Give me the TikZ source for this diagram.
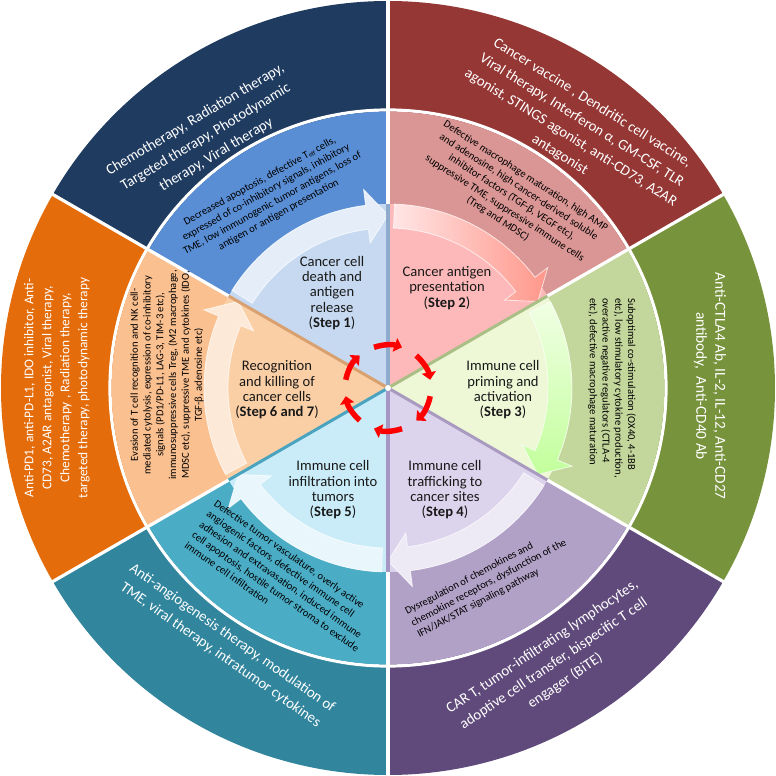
\documentclass[tikz,border=0pt]{standalone}
\usepackage{fontspec}
\setmainfont{Carlito}
\usetikzlibrary{arrows.meta}
\definecolor{oNavy}{HTML}{1F3B60}
\definecolor{oRed}{HTML}{953735}
\definecolor{oGreen}{HTML}{77933C}
\definecolor{oPurple}{HTML}{604A7B}
\definecolor{oTeal}{HTML}{31859C}
\definecolor{oOrange}{HTML}{E46C0A}
\definecolor{mBlue}{HTML}{5A8ED4}
\definecolor{mPink}{HTML}{D99694}
\definecolor{mGreen}{HTML}{C3D69B}
\definecolor{mLav}{HTML}{B2A1C7}
\definecolor{mCyan}{HTML}{4BACC6}
\definecolor{mPeach}{HTML}{FAC090}
\definecolor{dBlue}{HTML}{C6D9F0}
\definecolor{dPink}{HTML}{FDB9B9}
\definecolor{dGreen}{HTML}{EEF7D6}
\definecolor{dLav}{HTML}{DCD3EC}
\definecolor{dCyan}{HTML}{C9ECF8}
\definecolor{dPeach}{HTML}{FBCFA5}
\definecolor{sBlue}{HTML}{8EAACC}
\definecolor{sGreen}{HTML}{A9BF86}
\definecolor{sLav}{HTML}{A99BC0}
\definecolor{sPurp}{HTML}{A596C4}
\definecolor{sTeal}{HTML}{4AA3BF}
\definecolor{sTan}{HTML}{D9A070}
\definecolor{redArr}{HTML}{FF0000}
\newcommand{\mysector}[4]{\fill[#4] (0,0) -- (#1:#3) arc[start angle=#1, end angle=#2, radius=#3] -- cycle;}
\newcommand{\cycarrow}[2]{(#1:160) arc[start angle=#1, end angle={#2+7}, radius=160] -- ({#2+7}:146) -- (#2:173) -- ({#2+7}:200) -- ({#2+7}:184) arc[start angle={#2+7}, end angle=#1, radius=184] -- cycle}
\tikzset{
  outertext/.style={text=white, align=center, font=\fontsize{14.8}{20.5}\selectfont, inner sep=0pt},
  midtext/.style={text=black, font=\fontsize{10.6}{12.8}\selectfont, inner sep=0pt},
  steptext/.style={text=black!90, align=center, font=\fontsize{14.6}{15.3}\selectfont, inner sep=0pt},
  whiteline/.style={white, line width=3.2pt},
  bandedge/.style={draw=white, draw opacity=0.7, line width=0.8pt},
  redarr/.style={redArr, line width=5.5pt, -{Triangle[length=7.5pt,width=14pt]}},
}
\begin{document}
\begin{tikzpicture}[x=1pt,y=1pt]
\useasboundingbox (-388,-388) rectangle (388,388);
% outer ring
\mysector{90}{150}{387}{oNavy}
\mysector{30}{90}{387}{oRed}
\mysector{-30}{30}{387}{oGreen}
\mysector{-90}{-30}{387}{oPurple}
\mysector{-150}{-90}{387}{oTeal}
\mysector{150}{210}{387}{oOrange}
\draw[whiteline] (0,0) circle[radius=278];
% middle ring
\mysector{90}{150}{276.4}{mBlue}
\mysector{30}{90}{276.4}{mPink}
\mysector{-30}{30}{276.4}{mGreen}
\mysector{-90}{-30}{276.4}{mLav}
\mysector{-150}{-90}{276.4}{mCyan}
\mysector{150}{210}{276.4}{mPeach}
% inner disk
\mysector{90}{150}{184}{dBlue}
\mysector{30}{90}{184}{dPink}
\mysector{-30}{30}{184}{dGreen}
\mysector{-90}{-30}{184}{dLav}
\mysector{-150}{-90}{184}{dCyan}
\mysector{150}{210}{184}{dPeach}
% radial white lines
\foreach \a in {90,30,-30,-90,-150,150} {\draw[whiteline] (\a:182) -- (\a:390);}
% cycle arrows
\path[fill=dBlue!45!white, bandedge] \cycarrow{148}{90};
\shade[left color=red!10!white, right color=red!40!white!90!orange, bandedge] \cycarrow{88}{30};
\shade[top color=green!6!white!95!yellow, bottom color=green!28!white!85!yellow, bandedge] \cycarrow{28}{-30};
\path[fill=dLav!50!white, bandedge] \cycarrow{-32}{-90};
\path[fill=dCyan!40!white, bandedge] \cycarrow{-92}{-150};
\path[fill=dPeach!45!white, bandedge] \cycarrow{208}{150};
% inner boundary strips
\draw[sBlue, line width=3pt] (0,0) -- (90:184);
\draw[sGreen, line width=3pt] (0,0) -- (30:184);
\draw[sLav, line width=3pt] (0,0) -- (-30:184);
\draw[sPurp, line width=3pt] (0,0) -- (-90:184);
\draw[sTeal, line width=3pt] (0,0) -- (-150:184);
\draw[sTan, line width=3pt] (0,0) -- (150:184);
\fill[white] (0,0) circle[radius=3];
% red cycle arrows
\draw[redarr] (109:43) arc[start angle=109, end angle=71, radius=43];
\draw[redarr] (49:43) arc[start angle=49, end angle=11, radius=43];
\draw[redarr] (-11:43) arc[start angle=-11, end angle=-49, radius=43];
\draw[redarr] (-71:43) arc[start angle=-71, end angle=-109, radius=43];
\draw[redarr] (-131:43) arc[start angle=-131, end angle=-169, radius=43];
\draw[redarr] (169:43) arc[start angle=169, end angle=131, radius=43];
% step labels
\node[steptext] (s1) at (-56,95) {Cancer cell\\death and\\antigen\\release\\(\textbf{Step 1})};
\node[steptext] (s2) at (59,100) {Cancer antigen\\presentation\\(\textbf{Step 2})};
\node[steptext] (s3) at (115,-2) {Immune cell\\priming and\\activation\\(\textbf{Step 3})};
\node[steptext] (s4) at (57,-102) {Immune cell\\trafficking to\\cancer sites\\(\textbf{Step 4})};
\node[steptext] (s5) at (-55,-102) {Immune cell\\infiltration into\\tumors\\(\textbf{Step 5})};
\node[steptext] (s6) at (-111,-2) {Recognition\\and killing of\\cancer cells\\(\textbf{Step 6 and 7})};
% middle ring texts
\node[midtext, align=center, rotate=29] (m1) at (122:224) {Decreased apoptosis, defective T\raisebox{-0.2ex}{\fontsize{6.5}{6.5}\selectfont eff} cells,\\expressed of co-inhibitory signals, inhibitory\\TME, low immunogenic tumor antigens, loss of\\antigen or antigen presentation};
\node[midtext, align=center, rotate=-33] (m2) at (57:227) {Defective macrophage maturation, high AMP\\and adenosine, high cancer-derived soluble\\inhibitor factors (TGF-β, VEGF etc),\\suppressive TME, suppressive immune cells\\(Treg and MDSC)};
\node[midtext, align=left, rotate=-90] (m3) at (224,0) {Suboptimal co-stimulation (OX40, 4-1BB\\etc), low stimulatory cytokine production,\\overactive negative regulators (CTLA-4\\etc), defective macrophage maturation};
\node[midtext, align=left, rotate=28] (m4) at (101,-195) {Dysregulation of chemokines and\\chemokine receptors, dysfunction of the\\IFN/JAK/STAT signaling pathway};
\node[midtext, align=left, rotate=-35] (m5) at (-105,-193) {Defective tumor vasculature, overly active\\angiogenic factors, defective immune cell\\adhesion and extravasation, induced immune\\cell apoptosis, hostile tumor stroma to exclude\\immune cell infiltration};
\node[midtext, align=center, rotate=90] (m6) at (-221,13) {Evasion of T cell recognition and NK cell-\\mediated cytolysis, expression of co-inhibitory\\signals (PD1/PD-L1, LAG-3, TIM-3 etc),\\immunosuppressive cells Treg, (M2 macrophage,\\MDSC etc), suppressive TME and cytokines (IDO,\\TGF-β, adenosine etc)};
% outer ring texts
\node[outertext, rotate=31] (o1) at (126:310) {Chemotherapy, Radiation therapy,\\Targeted therapy, Photodynamic\\therapy, Viral therapy};
\node[outertext, rotate=-32] (o2) at (54:320) {Cancer vaccine , Dendritic cell vaccine,\\Viral therapy, Interferon α, GM-CSF, TLR\\agonist, STINGS agonist, anti-CD73, A2AR\\antagonist};
\node[outertext, rotate=-90, font=\fontsize{15.3}{19}\selectfont] (o3) at (322,2) {Anti-CTLA4 Ab, IL-2, IL-12, Anti-CD27\\antibody,~ Anti-CD40 Ab};
\node[outertext, rotate=34] (o4) at (-59:322) {CAR T, tumor-infiltrating lymphocytes,\\adoptive cell transfer, bispecific T cell\\engager (BiTE)};
\node[outertext, rotate=-35] (o5) at (-122:305) {Anti-angiogenesis therapy, modulation of\\TME, viral therapy, intratumor cytokines};
\node[outertext, rotate=90, font=\fontsize{13.4}{18}\selectfont] (o6) at (-331,0) {Anti-PD1, anti-PD-L1, IDO inhibitor, Anti-\\CD73, A2AR antagonist, Viral therapy,\\Chemotherapy , Radiation therapy,\\targeted therapy, photodynamic therapy};
\end{tikzpicture}
\end{document}
